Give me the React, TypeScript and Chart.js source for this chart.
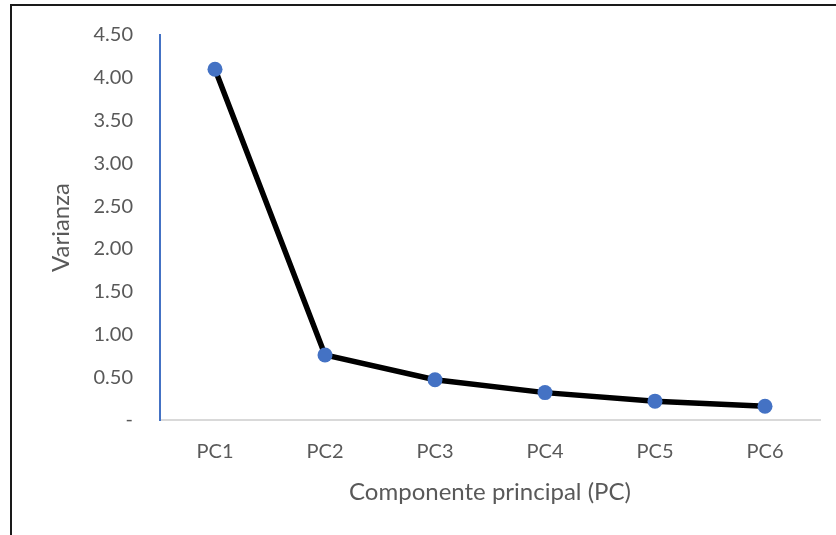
import React, { useEffect, useRef } from "react";
import { Chart, registerables } from "chart.js";

Chart.register(...registerables);

const categories: string[] = ["PC1", "PC2", "PC3", "PC4", "PC5", "PC6"];
const varianza: number[] = [4.1, 0.76, 0.47, 0.32, 0.22, 0.16];
const yMax = 4.5;
const yStep = 0.5;
const xTitle = "Componente principal (PC)";
const yTitle = "Varianza";

const FONT = "Lato, 'Noto Sans', sans-serif";
const GRAY = "#595959";

export default function App() {
  const ref = useRef<HTMLCanvasElement | null>(null);
  useEffect(() => {
    if (!ref.current) return;
    const chart = new Chart(ref.current, {
      type: "line",
      data: {
        labels: categories,
        datasets: [
          {
            data: varianza,
            borderColor: "#000000",
            borderWidth: 5.5,
            pointBackgroundColor: "#4472C4",
            pointBorderColor: "#4472C4",
            pointRadius: 7.5,
            pointBorderWidth: 0,
            tension: 0,
          },
        ],
      },
      options: {
        animation: false,
        responsive: false,
        maintainAspectRatio: false,
        layout: { padding: { left: 40, right: 16, top: 35, bottom: 0 } },
        plugins: { legend: { display: false }, tooltip: { enabled: false } },
        scales: {
          x: {
            offset: true,
            grid: { display: false, drawTicks: false },
            border: { display: true, color: "#D9D9D9", width: 2 },
            ticks: { color: GRAY, font: { family: FONT, size: 20 }, padding: 20 },
            title: {
              display: true,
              text: xTitle,
              color: GRAY,
              font: { family: FONT, size: 24 },
              padding: { top: 0, bottom: 28 },
            },
            afterFit: (s: any) => {
              s.height = 115;
            },
          },
          y: {
            min: 0,
            max: yMax,
            grid: { display: false, drawTicks: false },
            border: { display: true, color: "#4472C4", width: 2 },
            ticks: {
              stepSize: yStep,
              color: GRAY,
              font: { family: FONT, size: 20 },
              padding: 27,
              callback: (v: any) => (Number(v) === 0 ? "-" : Number(v).toFixed(2)),
            },
            title: {
              display: true,
              text: yTitle,
              color: GRAY,
              font: { family: FONT, size: 24 },
              padding: { top: 7, bottom: 0 },
            },
            afterFit: (s: any) => {
              s.width = 120;
              s.paddingTop = 12;
              s.paddingBottom = 12;
            },
          },
        },
      },
    });
    return () => chart.destroy();
  }, []);
  return (
    <div style={{ position: "fixed", left: 0, top: 0, width: 836, height: 535, background: "#fff", overflow: "hidden" }}>
      <canvas ref={ref} width={836} height={535} style={{ position: "absolute", left: 0, top: 0 }} />
      <div
        style={{
          position: "absolute",
          left: 10,
          top: 4,
          width: 900,
          height: 700,
          border: "2px solid #1a1a1a",
          pointerEvents: "none",
        }}
      />
    </div>
  );
}
